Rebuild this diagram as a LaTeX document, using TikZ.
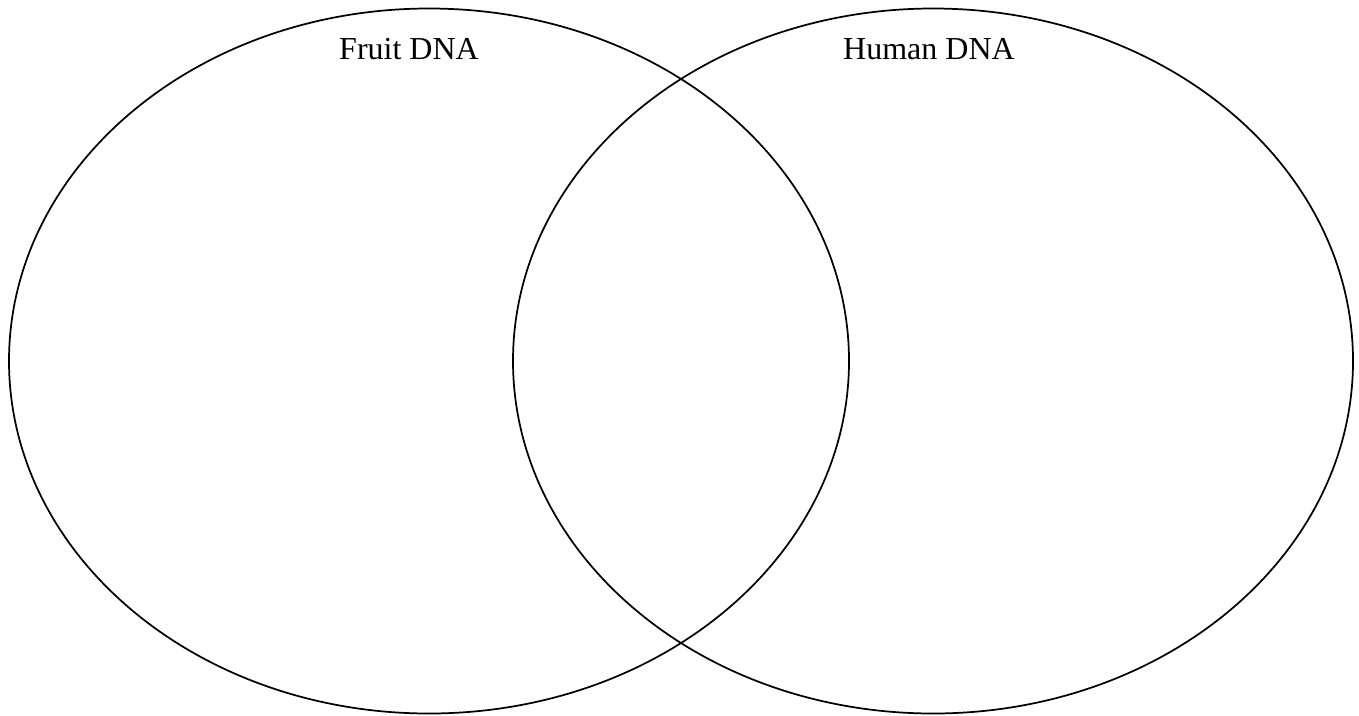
\documentclass[tikz,border=0pt]{standalone}
\usepackage{fontspec}
\setmainfont{Liberation Serif}
\begin{document}
\begin{tikzpicture}[x=0.75pt,y=-0.75pt,
  venn/.style={draw=black,line width=1.3pt},
  lbl/.style={font=\fontsize{24}{28}\selectfont,anchor=base,inner sep=0pt}]
\useasboundingbox (0,0) rectangle (1359,715);
\draw[venn] (429,361) ellipse [x radius=420, y radius=352.5];
\draw[venn] (933,361) ellipse [x radius=420, y radius=352.5];
\node[lbl] (fruit) at (409,59) {Fruit DNA};
\node[lbl] (human) at (929,59) {Human DNA};
\end{tikzpicture}
\end{document}
